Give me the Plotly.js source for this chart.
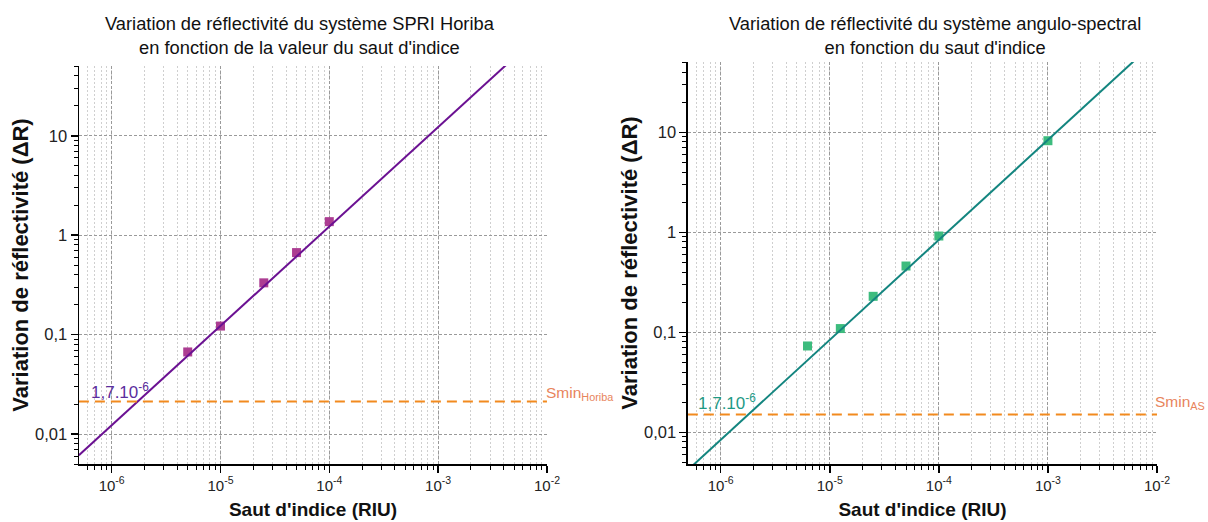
<!DOCTYPE html>
<html>
<head>
<meta charset="utf-8">
<script src="https://cdn.plot.ly/plotly-3.0.1.min.js"></script>
<style>html,body{margin:0;padding:0;background:#fff;}</style>
</head>
<body>
<div id="chart" style="width:1208px;height:522px;"></div>
<script>
// ---- data ----
const horibaX = [5e-6, 1e-5, 2.5e-5, 5e-5, 1e-4];
const horibaY = [0.067, 0.122, 0.332, 0.669, 1.37];
const horibaFitX = [5e-7, 1e-2];
const horibaFitY = [0.00612, 122.4];
const sminHoriba = 0.0213;

const asX = [6.25e-6, 1.25e-5, 2.5e-5, 5e-5, 1e-4, 1e-3];
const asY = [0.073, 0.109, 0.229, 0.46, 0.918, 8.24];
const asFitX = [5e-7, 1e-2];
const asFitY = [0.0042, 84];
const sminAS = 0.0151;

const sminX = [5e-7, 1e-2];

const xTickVals = [1e-6, 1e-5, 1e-4, 1e-3, 1e-2];
const xTickText = ['10<sup>-6</sup>', '10<sup>-5</sup>', '10<sup>-4</sup>', '10<sup>-3</sup>', '10<sup>-2</sup>'];
const yTickVals = [0.01, 0.1, 1, 10];
const yTickText = ['0,01', '0,1', '1', '10'];

const FONT = 'Liberation Sans, Arial, sans-serif';

const traces = [
  {x: horibaX, y: horibaY, type: 'scatter', mode: 'markers', xaxis: 'x', yaxis: 'y',
   marker: {symbol: 'square', size: 9, color: '#A8338C', opacity: 0.95}, showlegend: false},
  {x: horibaFitX, y: horibaFitY, type: 'scatter', mode: 'lines', xaxis: 'x', yaxis: 'y',
   line: {color: '#6B1192', width: 2}, showlegend: false},
  {x: sminX, y: [sminHoriba, sminHoriba], type: 'scatter', mode: 'lines', xaxis: 'x', yaxis: 'y',
   line: {color: '#F28A1E', width: 2, dash: '10px,6px'}, showlegend: false},
  {x: asX, y: asY, type: 'scatter', mode: 'markers', xaxis: 'x2', yaxis: 'y2',
   marker: {symbol: 'square', size: 9, color: '#33B877', opacity: 0.95}, showlegend: false},
  {x: asFitX, y: asFitY, type: 'scatter', mode: 'lines', xaxis: 'x2', yaxis: 'y2',
   line: {color: '#13857F', width: 2}, showlegend: false},
  {x: sminX, y: [sminAS, sminAS], type: 'scatter', mode: 'lines', xaxis: 'x2', yaxis: 'y2',
   line: {color: '#F28A1E', width: 2, dash: '10px,6px'}, showlegend: false}
];

function xAxis(domain, anchor) {
  return {
    type: 'log', domain: domain, anchor: anchor, range: [-6.3, -2],
    tickmode: 'array', tickvals: xTickVals, ticktext: xTickText,
    ticks: 'outside', ticklen: 7, tickwidth: 1.5, tickcolor: '#000',
    showline: true, linecolor: '#000', linewidth: 1.5,
    showgrid: true, gridcolor: '#9a9a9a', griddash: '3px,2px', gridwidth: 1,
    zeroline: false, automargin: false,
    tickfont: {family: FONT, size: 15, color: '#222'},
    minor: {dtick: 'D1', ticks: 'outside', ticklen: 4, tickwidth: 1, tickcolor: '#000',
            showgrid: true, gridcolor: '#cfcfcf', griddash: '2px,2px', gridwidth: 1},
    title: {text: "Saut d'indice (RIU)", font: {family: FONT, size: 19, color: '#111', weight: 'bold'}, standoff: 10}
  };
}
function yAxis(domain, anchor, range) {
  return {
    type: 'log', domain: domain, anchor: anchor, range: range,
    tickmode: 'array', tickvals: yTickVals, ticktext: yTickText,
    ticks: 'outside', ticklen: 7, tickwidth: 1.5, tickcolor: '#000',
    showline: true, linecolor: '#000', linewidth: 1.5,
    showgrid: true, gridcolor: '#9a9a9a', griddash: '3px,2px', gridwidth: 1,
    zeroline: false, automargin: false,
    tickfont: {family: FONT, size: 16.5, color: '#222'},
    minor: {dtick: 'D1', ticks: 'outside', ticklen: 4, tickwidth: 1, tickcolor: '#000', showgrid: false},
    title: {text: 'Variation de réflectivité (ΔR)', font: {family: FONT, size: 22, color: '#111', weight: 'bold'}, standoff: 0}
  };
}

const layout = {
  width: 1208, height: 522,
  margin: {l: 79, r: 51, t: 62, b: 58},
  paper_bgcolor: '#fff', plot_bgcolor: '#fff',
  font: {family: FONT},
  showlegend: false,
  xaxis: xAxis([0, 0.4341], 'y'),
  yaxis: yAxis([0, 0.990], 'x', [-2.301, 1.702]),
  xaxis2: xAxis([0.5649, 1], 'y2'),
  yaxis2: yAxis([0, 1], 'x2', [-2.317, 1.703]),
  annotations: [
    {text: 'Variation de réflectivité du système SPRI Horiba<br>en fonction de la valeur du saut d\'indice',
     xref: 'paper', yref: 'paper', x: 0.205, y: 1.0647, xanchor: 'center', yanchor: 'middle',
     showarrow: false, font: {family: FONT, size: 18.3, color: '#111'}},
    {text: 'Variation de réflectivité du système angulo-spectral<br>en fonction du saut d\'indice',
     xref: 'paper', yref: 'paper', x: 0.794, y: 1.0647, xanchor: 'center', yanchor: 'middle',
     showarrow: false, font: {family: FONT, size: 18.3, color: '#111'}},
    {text: '1,7.10<sup>-6</sup>', xref: 'paper', yref: 'paper', x: 0.0093, y: 0.1816,
     xanchor: 'left', yanchor: 'middle', showarrow: false,
     font: {family: FONT, size: 17, color: '#5B2D9E'}},
    {text: 'Smin<sub>Horiba</sub>', xref: 'paper', yref: 'paper', x: 0.4313, y: 0.175,
     xanchor: 'left', yanchor: 'middle', showarrow: false,
     font: {family: FONT, size: 15.5, color: '#E8845C'}},
    {text: '1,7.10<sup>-6</sup>', xref: 'paper', yref: 'paper', x: 0.5724, y: 0.1542,
     xanchor: 'left', yanchor: 'middle', showarrow: false,
     font: {family: FONT, size: 17, color: '#1E9A86'}},
    {text: 'Smin<sub>AS</sub>', xref: 'paper', yref: 'paper', x: 0.9965, y: 0.152,
     xanchor: 'left', yanchor: 'middle', showarrow: false,
     font: {family: FONT, size: 15.5, color: '#E8845C'}}
  ]
};

Plotly.newPlot('chart', traces, layout, {displayModeBar: false, staticPlot: true});
</script>
</body>
</html>
